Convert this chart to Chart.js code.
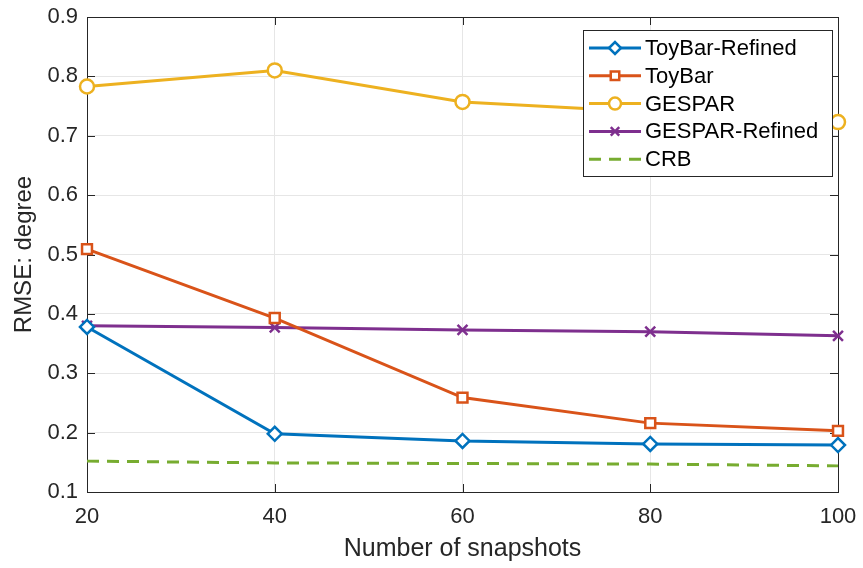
<!DOCTYPE html>
<html>
<head>
<meta charset="utf-8">
<script src="https://cdn.jsdelivr.net/npm/chart.js@4"></script>
<style>
  html, body { margin: 0; padding: 0; background: #fff; }
  #wrap { width: 863px; height: 568px; }
</style>
</head>
<body>
<div id="wrap"><canvas id="chart_rmse"></canvas></div>
<script>
const snapshots = [20, 40, 60, 80, 100];
const toyBarRefined = [0.378, 0.198, 0.186, 0.181, 0.179];
const toyBar = [0.509, 0.393, 0.259, 0.216, 0.203];
const gespar = [0.783, 0.810, 0.757, 0.740, 0.723];
const gesparRefined = [0.380, 0.377, 0.373, 0.370, 0.363];
const crb = [0.152, 0.149, 0.148, 0.147, 0.144];

const font = 'Liberation Sans, Arial, Helvetica, sans-serif';
const textColor = '#262626';

function pts(vals) {
    return snapshots.map((x, i) => ({x: x, y: vals[i]}));
}

function series(label, vals, color, style) {
    return {
        label: label,
        data: pts(vals),
        borderColor: color,
        backgroundColor: color,
        pointBorderColor: color,
        pointBackgroundColor: '#fff',
        pointStyle: style,
        pointRadius: style ? 7 : 0,
        pointBorderWidth: 2.5,
        borderWidth: 3,
        tension: 0,
        fill: false,
        clip: false
    };
}

// box around the axes plus inward ticks, like matlab
const boxPlugin = {
    id: 'box',
    beforeDatasetsDraw(c) {
        const ctx = c.ctx, a = c.chartArea;
        const xs = c.scales.x, ys = c.scales.y;
        ctx.save();
        ctx.strokeStyle = '#262626';
        ctx.lineWidth = 1;
        ctx.strokeRect(a.left + 0.5, a.top + 0.5, a.right - a.left, a.bottom - a.top);
        ctx.beginPath();
        ys.ticks.forEach(t => {
            const y = Math.round(ys.getPixelForValue(t.value)) + 0.5;
            ctx.moveTo(a.left, y); ctx.lineTo(a.left + 8, y);
            ctx.moveTo(a.right, y); ctx.lineTo(a.right - 8, y);
        });
        xs.ticks.forEach(t => {
            const x = Math.round(xs.getPixelForValue(t.value)) + 0.5;
            ctx.moveTo(x, a.bottom); ctx.lineTo(x, a.bottom - 8);
            ctx.moveTo(x, a.top); ctx.lineTo(x, a.top + 8);
        });
        ctx.stroke();
        ctx.restore();
    }
};

// legend drawn inside the plot, top right
const insideLegend = {
    id: 'insideLegend',
    afterDraw(c) {
        const ctx = c.ctx;
        const bx = 583, by = 30, bw = 249, bh = 146;
        ctx.save();
        ctx.fillStyle = '#fff';
        ctx.fillRect(bx, by, bw, bh);
        ctx.strokeStyle = '#262626';
        ctx.lineWidth = 1;
        ctx.strokeRect(bx + 0.5, by + 0.5, bw, bh);
        c.data.datasets.forEach((ds, i) => {
            const y = by + 18 + i * 27.8;
            ctx.strokeStyle = ds.borderColor;
            ctx.lineWidth = ds.borderWidth;
            ctx.setLineDash(ds.borderDash || []);
            ctx.beginPath();
            ctx.moveTo(bx + 6, y);
            ctx.lineTo(bx + 58, y);
            ctx.stroke();
            ctx.setLineDash([]);
            if (ds.pointStyle) {
                ctx.fillStyle = '#fff';
                ctx.strokeStyle = ds.borderColor;
                ctx.lineWidth = 2.5;
                Chart.helpers.drawPoint(ctx, {pointStyle: ds.pointStyle, radius: 6, borderWidth: 2.5}, bx + 32, y);
            }
            ctx.fillStyle = '#000';
            ctx.font = '22px ' + font;
            ctx.textBaseline = 'middle';
            ctx.textAlign = 'left';
            ctx.fillText(ds.label, bx + 62, y + 1);
        });
        ctx.restore();
    }
};

const chart = document.getElementById('chart_rmse').getContext('2d');

const rmseChart = new Chart(chart, {
    type: 'line',
    data: {
        datasets: [
            series('ToyBar-Refined', toyBarRefined, '#0072BD', 'rectRot'),
            series('ToyBar', toyBar, '#D95319', 'rect'),
            series('GESPAR', gespar, '#EDB120', 'circle'),
            series('GESPAR-Refined', gesparRefined, '#7E2F8E', 'crossRot'),
            Object.assign(series('CRB', crb, '#77AC30', false), {borderDash: [12, 8]})
        ]
    },
    options: {
        responsive: true,
        maintainAspectRatio: false,
        animation: false,
        layout: { padding: { top: 17, right: 25, left: 0, bottom: 0 } },
        plugins: {
            legend: { display: false },
            tooltip: { enabled: false }
        },
        scales: {
            x: {
                type: 'linear',
                min: 20, max: 100,
                ticks: { stepSize: 20, color: textColor, font: { family: font, size: 22 }, padding: 12, maxRotation: 0 },
                grid: { color: '#e6e6e6', drawTicks: false },
                border: { display: false },
                title: { display: true, text: 'Number of snapshots', color: textColor, font: { family: font, size: 25 }, padding: { top: 4 } },
                afterFit: s => { s.height = 76; s.paddingRight = 0; s.paddingLeft = 0; }
            },
            y: {
                min: 0.1, max: 0.9,
                ticks: { stepSize: 0.1, color: textColor, font: { family: font, size: 22 }, padding: 9, callback: v => v.toFixed(1) },
                grid: { color: '#e6e6e6', drawTicks: false },
                border: { display: false },
                title: { display: true, text: 'RMSE: degree', color: textColor, font: { family: font, size: 24 }, padding: { bottom: 0, top: 10 } },
                afterFit: s => { s.width = 87; s.paddingTop = 0; s.paddingBottom = 0; }
            }
        }
    },
    plugins: [boxPlugin, insideLegend]
});
</script>
</body>
</html>
